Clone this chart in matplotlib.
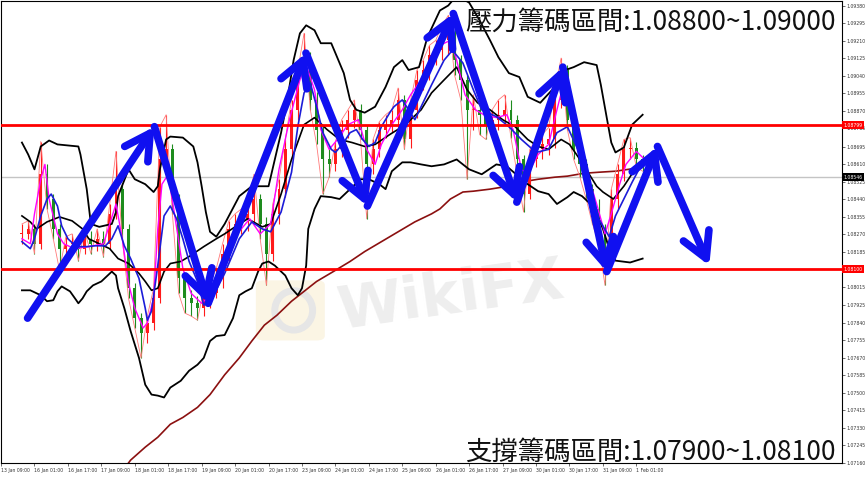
import numpy as np
import matplotlib
matplotlib.use('Agg')
import matplotlib.pyplot as plt
from matplotlib.patches import FancyBboxPatch, Ellipse

# ---------------- data (hour-bar index on x, EURUSD price on y) ----------------
closes = [1.08272,1.08296,1.08224,1.08561,1.08441,1.08296,1.08200,1.08224,1.08224,1.08200,
          1.08248,1.08224,1.08248,1.08224,1.08369,1.08489,1.08296,1.08008,1.07863,1.07791,
          1.07839,1.07959,1.08633,1.08682,1.08441,1.08056,1.07959,1.07935,1.07911,1.07959,
          1.07983,1.08056,1.08176,1.08296,1.08320,1.08345,1.08369,1.08441,1.08320,1.08176,
          1.08369,1.08489,1.08682,1.08874,1.09019,1.09115,1.08922,1.08778,1.08633,1.08609,
          1.08682,1.08778,1.08826,1.08874,1.08778,1.08609,1.08682,1.08778,1.08802,1.08826,
          1.08922,1.08730,1.08874,1.09019,1.09067,1.09139,1.09163,1.09211,1.09235,1.09115,
          1.09019,1.08874,1.08874,1.08850,1.08802,1.08826,1.08850,1.08874,1.08826,1.08633,
          1.08465,1.08633,1.08682,1.08706,1.08730,1.08922,1.09067,1.08826,1.08682,1.08609,
          1.08489,1.08393,1.08296,1.08200,1.08441,1.08561,1.08682,1.08691,1.08633,1.08609]
highs = [1.08320,1.08335,1.08320,1.08720,1.08609,1.08465,1.08320,1.08258,1.08272,1.08258,
         1.08287,1.08287,1.08296,1.08287,1.08417,1.08672,1.08513,1.08320,1.08032,1.07887,
         1.07873,1.08008,1.08792,1.08850,1.08706,1.08465,1.08080,1.07998,1.07969,1.08008,
         1.08032,1.08104,1.08224,1.08335,1.08369,1.08393,1.08417,1.08561,1.08465,1.08354,
         1.08417,1.08537,1.08730,1.08922,1.09067,1.09245,1.09154,1.08961,1.08802,1.08682,
         1.08720,1.08826,1.08874,1.08922,1.08903,1.08802,1.08730,1.08816,1.08850,1.08874,
         1.08980,1.08947,1.08922,1.09067,1.09115,1.09187,1.09211,1.09284,1.09332,1.09260,
         1.09139,1.09043,1.08947,1.08922,1.08898,1.08874,1.08922,1.08947,1.08922,1.08850,
         1.08657,1.08682,1.08730,1.08754,1.08788,1.08971,1.09125,1.09091,1.08850,1.08730,
         1.08633,1.08513,1.08441,1.08320,1.08489,1.08609,1.08730,1.08739,1.08720,1.08657]
lows = [1.08224,1.08248,1.08176,1.08200,1.08393,1.08248,1.08094,1.08162,1.08176,1.08142,
        1.08176,1.08176,1.08190,1.08162,1.08200,1.08345,1.08248,1.07959,1.07815,1.07670,
        1.07743,1.07805,1.07935,1.08585,1.08369,1.07983,1.07887,1.07873,1.07853,1.07873,
        1.07911,1.07959,1.08008,1.08142,1.08248,1.08272,1.08287,1.08320,1.08248,1.08022,
        1.08142,1.08320,1.08450,1.08633,1.08826,1.08971,1.08874,1.08706,1.08465,1.08547,
        1.08576,1.08643,1.08739,1.08788,1.08730,1.08345,1.08561,1.08643,1.08739,1.08768,
        1.08788,1.08682,1.08691,1.08836,1.08971,1.09019,1.09091,1.09115,1.09139,1.09043,
        1.08922,1.08537,1.08778,1.08754,1.08730,1.08754,1.08778,1.08802,1.08739,1.08561,
        1.08378,1.08441,1.08595,1.08633,1.08657,1.08691,1.08884,1.08778,1.08633,1.08547,
        1.08441,1.08320,1.08224,1.08022,1.08162,1.08393,1.08527,1.08633,1.08595,1.08576]
bars_per_candle = 3

bb_upper_x = [0,3,6,9,13,17,27,28,31,33,37,43,45,46,51,54,59,63,65,66,69,71,77,82,84,86,88,90,93,97,
              104,110,118,121,124,127,130,133,136,140,143,148,150,154,157,160,164,169,174,178,182,185,
              190,194,200,204,208,214,219,224,228,233,238,242,248,255,260,264,269,275,277,280,282,284,
              288,292,297]
bb_upper_y = [1.08715,1.08657,1.08585,1.08696,1.08725,1.08706,1.08696,1.08657,1.08489,1.08320,
              1.08306,1.08320,1.08378,1.08455,1.08585,1.08537,1.08513,1.08475,1.08503,1.08585,
              1.08730,1.08744,1.08739,1.08696,1.08619,1.08503,1.08378,1.08282,1.08258,1.08320,
              1.08455,1.08503,1.08503,1.08633,1.08763,1.08922,1.09115,1.09245,1.09284,1.09260,
              1.09197,1.09197,1.09149,1.09052,1.08922,1.08874,1.08860,1.08889,1.08985,1.09081,
              1.09115,1.09067,1.09081,1.09226,1.09356,1.09380,1.09428,1.09394,1.09308,1.09211,
              1.09129,1.09052,1.09033,1.08937,1.08908,1.08985,1.09067,1.09081,1.09105,1.09091,
              1.08995,1.08826,1.08715,1.08667,1.08691,1.08802,1.08850]

bb_lower_x = [0,4,9,12,15,17,19,23,26,27,29,31,34,38,43,45,46,49,52,56,59,62,65,68,71,76,80,84,87,90,
              93,97,101,104,107,110,113,115,118,121,126,129,132,134,136,137,140,143,148,152,157,162,
              166,171,174,177,182,186,191,196,202,208,214,220,227,232,238,242,247,252,256,261,264,268,
              272,275,278,281,284,291,297]
bb_lower_y = [1.07998,1.07998,1.07974,1.07945,1.07950,1.07993,1.08017,1.07993,1.07950,1.07935,
              1.07959,1.07993,1.08022,1.08041,1.08089,1.08070,1.08008,1.07911,1.07800,1.07670,
              1.07540,1.07492,1.07487,1.07478,1.07526,1.07559,1.07608,1.07637,1.07670,1.07752,
              1.07776,1.07781,1.07863,1.07974,1.07993,1.08008,1.08089,1.08128,1.08138,1.08118,
              1.08070,1.08008,1.07974,1.08008,1.08118,1.08296,1.08393,1.08455,1.08450,1.08441,
              1.08489,1.08537,1.08537,1.08513,1.08489,1.08576,1.08619,1.08619,1.08609,1.08600,
              1.08609,1.08633,1.08585,1.08561,1.08609,1.08600,1.08547,1.08513,1.08479,1.08465,
              1.08417,1.08450,1.08475,1.08455,1.08417,1.08369,1.08296,1.08200,1.08142,1.08133,
              1.08152]

bb_mid_x = [0,4,7,12,18,24,29,32,37,42,46,51,56,59,62,65,68,71,76,80,87,93,97,102,108,115,119,124,
            129,135,140,146,152,158,164,169,176,182,186,191,196,202,208,213,218,224,230,236,242,247,
            252,258,262,267,272,275,278,283,288,294,297]
bb_mid_y = [1.08359,1.08330,1.08296,1.08330,1.08354,1.08335,1.08296,1.08248,1.08224,1.08200,
            1.08152,1.08128,1.08080,1.08041,1.07998,1.08008,1.08089,1.08128,1.08138,1.08162,
            1.08210,1.08248,1.08272,1.08306,1.08345,1.08306,1.08320,1.08465,1.08633,1.08802,
            1.08836,1.08778,1.08730,1.08715,1.08696,1.08706,1.08754,1.08792,1.08826,1.08874,
            1.08956,1.09019,1.09081,1.08971,1.08908,1.08874,1.08826,1.08792,1.08730,1.08696,
            1.08682,1.08730,1.08706,1.08633,1.08552,1.08503,1.08475,1.08441,1.08503,1.08595,
            1.08624]

ma200_x = [46,52,59,65,71,77,84,90,97,104,110,116,122,129,135,141,149,157,164,172,180,188,196,200,
           205,211,216,224,230,236,241,247,255,261,269,276,284,297]
ma200_y = [1.07092,1.07174,1.07237,1.07285,1.07348,1.07381,1.07430,1.07492,1.07588,1.07670,
           1.07752,1.07829,1.07877,1.07945,1.07993,1.08041,1.08089,1.08138,1.08186,1.08234,
           1.08282,1.08330,1.08369,1.08393,1.08441,1.08475,1.08479,1.08489,1.08499,1.08513,
           1.08527,1.08537,1.08547,1.08552,1.08566,1.08571,1.08576,1.08595]

ma_blue_x = [0,4,6,9,12,14,17,19,22,26,31,35,40,43,46,49,52,56,59,60,62,65,68,71,74,77,80,84,87,91,
             97,104,110,115,119,124,129,132,135,138,141,144,148,150,154,157,160,163,166,169,172,176,
             178,182,185,188,191,196,202,206,211,216,220,227,233,239,246,252,256,261,266,270,276,281,
             284,288,292,297]
ma_blue_y = [1.08234,1.08200,1.08248,1.08359,1.08441,1.08465,1.08407,1.08311,1.08248,1.08210,
             1.08210,1.08214,1.08214,1.08248,1.08311,1.08214,1.08152,1.08056,1.07911,1.07853,
             1.07897,1.08118,1.08359,1.08407,1.08345,1.08248,1.08138,1.08041,1.07926,1.07959,
             1.08080,1.08248,1.08330,1.08296,1.08282,1.08378,1.08571,1.08792,1.08956,1.09004,
             1.08889,1.08763,1.08682,1.08667,1.08715,1.08763,1.08778,1.08730,1.08696,1.08715,
             1.08792,1.08860,1.08889,1.08922,1.08874,1.08826,1.08889,1.08995,1.09115,1.09163,
             1.09101,1.08971,1.08874,1.08841,1.08792,1.08730,1.08667,1.08682,1.08763,1.08792,
             1.08682,1.08585,1.08345,1.08258,1.08359,1.08441,1.08523,1.08619]

ma_mag_x = [0,4,6,9,11,13,17,20,25,32,39,42,45,48,51,54,58,60,63,65,67,70,73,77,81,86,91,95,100,105,
            109,114,119,123,128,133,136,140,143,147,151,156,161,165,169,172,177,182,186,191,196,200,
            205,208,212,217,221,227,232,235,239,242,247,252,256,259,263,266,270,275,279,282,286,289,
            294,298]
ma_mag_y = [1.08248,1.08224,1.08369,1.08537,1.08609,1.08441,1.08272,1.08224,1.08200,1.08210,
            1.08224,1.08320,1.08417,1.08248,1.08032,1.07911,1.07815,1.07839,1.07959,1.08296,
            1.08513,1.08561,1.08369,1.08104,1.07983,1.07935,1.07983,1.08104,1.08248,1.08296,
            1.08345,1.08272,1.08320,1.08585,1.08826,1.09019,1.09091,1.08971,1.08778,1.08682,
            1.08730,1.08802,1.08826,1.08682,1.08609,1.08706,1.08802,1.08874,1.08947,1.09019,
            1.09115,1.09187,1.09211,1.09115,1.08947,1.08874,1.08850,1.08836,1.08850,1.08778,
            1.08585,1.08561,1.08657,1.08706,1.08874,1.08995,1.08874,1.08730,1.08585,1.08417,
            1.08272,1.08369,1.08513,1.08609,1.08672,1.08633]

zigzag_x = [2.7, 63.4, 89.1, 135.9, 165.3, 206.4, 236.8, 258.8, 279.8, 304.1, 328.9]
zigzag_y = [1.07863, 1.08792, 1.07935, 1.09149, 1.08407, 1.09341, 1.08426, 1.09081, 1.08089, 1.08696, 1.08118]

resistance_level = 1.08799
support_level = 1.08100
current_price = 1.08546

ytick_vals = [1.09380,1.09295,1.09210,1.09125,1.09040,1.08955,1.08870,1.08785,1.08695,1.08610,
              1.08525,1.08440,1.08355,1.08270,1.08185,1.08015,1.07925,1.07840,1.07755,
              1.07670,1.07585,1.07500,1.07415,1.07330,1.07245,1.07160]
xtick_bars = [-10,6,22,38,54,70,86,102,118,134,150,166,182,198,214,230,246,262,278,294]
xtick_labels = ['13 Jan 09:00','16 Jan 01:00','16 Jan 17:00','17 Jan 09:00','18 Jan 01:00',
                '18 Jan 17:00','19 Jan 09:00','20 Jan 01:00','20 Jan 17:00','23 Jan 09:00',
                '24 Jan 01:00','24 Jan 17:00','25 Jan 09:00','26 Jan 01:00','26 Jan 17:00',
                '27 Jan 09:00','30 Jan 01:00','30 Jan 17:00','31 Jan 09:00','1 Feb 01:00']

title_top = '壓力籌碼區間:1.08800~1.09000'
title_bottom = '支撐籌碼區間:1.07900~1.08100'
watermark = 'WikiFX'

# ---------------- figure ----------------
cjk = ['Noto Sans CJK TC', 'DejaVu Sans']
fig = plt.figure(figsize=(8.66, 4.79), dpi=100)
ax = fig.add_axes([0.0012, 0.0334, 0.9711, 0.9654])
ax.set_xlim(-0.6, 392.4)
ax.set_ylim(1.07174, 1.09404)
ax.set_facecolor('white')

# watermark (behind everything)
ax.add_patch(FancyBboxPatch((0.308, 0.27), 0.072, 0.12, boxstyle='round,pad=0.005,rounding_size=0.01',
                            transform=ax.transAxes, fc='#fbf5e4', ec='none', zorder=0.3))
ax.add_patch(Ellipse((0.348, 0.33), 0.045, 0.085, transform=ax.transAxes, fill=False,
                     ec='#e6e6e6', lw=5, zorder=0.35))
ax.text(0.535, 0.36, watermark, transform=ax.transAxes, fontsize=42, fontweight='bold',
        color='#eeeeee', rotation=8, ha='center', va='center', zorder=0.4,
        family='DejaVu Sans')

# horizontal levels
ax.axhline(current_price, color='#c4c4c4', lw=1.0, zorder=1)
ax.axhline(resistance_level, color='#ff0000', lw=2.0, zorder=5)
ax.axhline(support_level, color='#ff0000', lw=2.0, zorder=5)

# candles
c = np.array(closes)
o = np.r_[c[0], c[:-1]]
h = np.array(highs)
l = np.array(lows)
cx = np.arange(len(c)) * bars_per_candle
up = c >= o
cols = np.where(up, '#ff1a1a', '#1e8c1e')
ax.vlines(cx, l, h, colors=cols, lw=0.8, zorder=3)
body_lo = np.minimum(o, c)
body_h = np.maximum(np.abs(c - o), 0.00003)
ax.bar(cx, body_h, bottom=body_lo, width=1.4, color=cols, zorder=3, linewidth=0)
ax.plot(cx, np.where(up, h, l), color='#ff7a7a', lw=0.6, zorder=3.2)

# indicators
ax.plot(ma200_x, ma200_y, color='#8b1010', lw=1.2, zorder=2)
ax.plot(bb_upper_x, bb_upper_y, color='black', lw=1.3, zorder=4)
ax.plot(bb_lower_x, bb_lower_y, color='black', lw=1.3, zorder=4)
ax.plot(bb_mid_x, bb_mid_y, color='black', lw=1.2, zorder=4)
ax.plot(ma_blue_x, ma_blue_y, color='#1c1cd8', lw=1.2, zorder=4.2)
ax.plot(ma_mag_x, ma_mag_y, color='#ff00ff', lw=1.0, zorder=4.1)

# blue zig-zag arrows
for i in range(len(zigzag_x) - 1):
    ax.annotate('', xy=(zigzag_x[i + 1], zigzag_y[i + 1]), xytext=(zigzag_x[i], zigzag_y[i]),
                arrowprops=dict(arrowstyle='->,head_length=0.9,head_width=0.5', color='#1010f0',
                                lw=5.5, mutation_scale=20, shrinkA=0, shrinkB=0,
                                capstyle='round', joinstyle='round'),
                zorder=7)

# axes / ticks
for s in ax.spines.values():
    s.set_color('black')
    s.set_linewidth(0.8)
ax.yaxis.tick_right()
ax.set_yticks(ytick_vals)
ax.set_yticklabels([f'{v:.5f}' for v in ytick_vals])
ax.tick_params(axis='y', length=2, width=0.5, pad=1.5, labelsize=3.3, colors='#333333')
ax.set_xticks(xtick_bars)
ax.set_xticklabels(xtick_labels)
for t in ax.get_xticklabels():
    t.set_ha('left')
ax.tick_params(axis='x', length=2, width=0.5, pad=1.5, labelsize=3.3, colors='#333333')

# price tags on the right axis
ytr = ax.get_yaxis_transform()
for val, bg in [(resistance_level, '#ff0000'), (support_level, '#ff0000'), (current_price, '#000000')]:
    ax.text(1.002, val, f'{val:.5f}', transform=ytr, fontsize=3.3, color='white', ha='left',
            va='center', clip_on=False, zorder=10,
            bbox=dict(boxstyle='square,pad=0.35', fc=bg, ec='none'))

# titles
fig.text(0.9654, 0.953, title_top, ha='right', va='center', fontsize=19, family=cjk, color='#111111')
fig.text(0.9654, 0.056, title_bottom, ha='right', va='center', fontsize=19, family=cjk, color='#111111')

fig.savefig('out.png', dpi=100)
